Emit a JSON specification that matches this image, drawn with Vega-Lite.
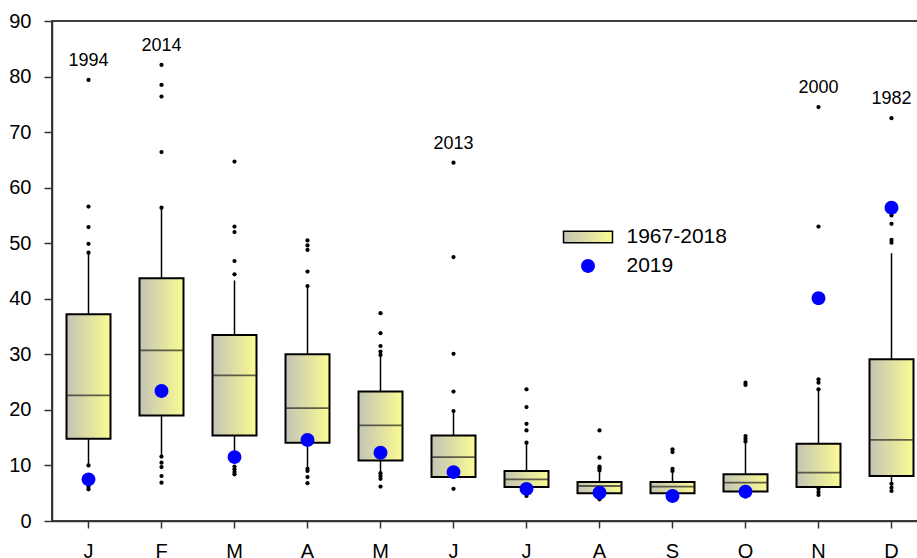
{
  "$schema": "https://vega.github.io/schema/vega-lite/v6.json",
  "autosize": {"type": "none"},
  "width": 876,
  "height": 500,
  "padding": {"left": 52, "top": 21, "right": 0, "bottom": 37},
  "background": "white",
  "title": {"text": "Monthly Streamflow (m³/s)", "fontSize": 26, "font": "Liberation Sans", "fontWeight": "normal", "color": "black", "anchor": "middle", "frame": "group", "dx": 88, "offset": 2, "baseline": "alphabetic"},
  "config": {
    "view": {"stroke": "black", "strokeWidth": 1.5},
    "axis": {"grid": false, "domainColor": "#333333", "domainWidth": 1.5, "tickColor": "#333333", "tickWidth": 1.5, "tickSize": 8, "labelColor": "black", "labelFont": "Liberation Sans", "title": null},
    "legend": {"title": null, "orient": "none", "legendX": 525.5, "legendY": 205.5, "padding": 0, "symbolSize": 100, "symbolStrokeWidth": 1.5,
      "labelFontSize": 21, "labelFont": "Liberation Sans", "labelColor": "black", "labelOffset": 28, "rowPadding": 7}
  },
  "datasets": {
    "boxes": [
      {"month": "Jan", "q1": 14.8, "median": 22.6, "q3": 37.2, "lo": 10.0, "hi": 48.3},
      {"month": "Feb", "q1": 19.0, "median": 30.7, "q3": 43.7, "lo": 11.6, "hi": 56.4},
      {"month": "Mar", "q1": 15.4, "median": 26.2, "q3": 33.5, "lo": 11.0, "hi": 43.3},
      {"month": "Apr", "q1": 14.1, "median": 20.3, "q3": 30.0, "lo": 9.4, "hi": 42.3},
      {"month": "May", "q1": 10.9, "median": 17.2, "q3": 23.3, "lo": 8.6, "hi": 29.7},
      {"month": "Jun", "q1": 7.9, "median": 11.5, "q3": 15.4, "lo": 7.9, "hi": 19.8},
      {"month": "Jul", "q1": 6.1, "median": 7.5, "q3": 9.0, "lo": 6.1, "hi": 14.1},
      {"month": "Aug", "q1": 5.0, "median": 6.3, "q3": 7.0, "lo": 5.0, "hi": 9.1},
      {"month": "Sep", "q1": 5.0, "median": 6.2, "q3": 7.0, "lo": 5.0, "hi": 9.0},
      {"month": "Oct", "q1": 5.3, "median": 6.9, "q3": 8.4, "lo": 5.3, "hi": 14.3},
      {"month": "Nov", "q1": 6.1, "median": 8.7, "q3": 13.9, "lo": 5.9, "hi": 23.7},
      {"month": "Dec", "q1": 8.1, "median": 14.6, "q3": 29.1, "lo": 6.9, "hi": 48.2}
    ],
    "outliers": [
      {"month": "Jan", "v": 10.0}, {"month": "Jan", "v": 6.2}, {"month": "Jan", "v": 5.7}, {"month": "Jan", "v": 48.3}, {"month": "Jan", "v": 49.9}, {"month": "Jan", "v": 52.9}, {"month": "Jan", "v": 56.6}, {"month": "Jan", "v": 79.4},
      {"month": "Feb", "v": 11.6}, {"month": "Feb", "v": 10.5}, {"month": "Feb", "v": 9.7}, {"month": "Feb", "v": 8.1}, {"month": "Feb", "v": 6.9}, {"month": "Feb", "v": 56.4}, {"month": "Feb", "v": 66.4}, {"month": "Feb", "v": 76.4}, {"month": "Feb", "v": 78.5}, {"month": "Feb", "v": 82.1},
      {"month": "Mar", "v": 9.8}, {"month": "Mar", "v": 9.3}, {"month": "Mar", "v": 8.8}, {"month": "Mar", "v": 8.4}, {"month": "Mar", "v": 44.4}, {"month": "Mar", "v": 46.8}, {"month": "Mar", "v": 52.0}, {"month": "Mar", "v": 53.0}, {"month": "Mar", "v": 64.7},
      {"month": "Apr", "v": 9.4}, {"month": "Apr", "v": 9.0}, {"month": "Apr", "v": 7.9}, {"month": "Apr", "v": 6.8}, {"month": "Apr", "v": 42.3}, {"month": "Apr", "v": 44.9}, {"month": "Apr", "v": 48.8}, {"month": "Apr", "v": 49.6}, {"month": "Apr", "v": 50.5},
      {"month": "May", "v": 8.6}, {"month": "May", "v": 8.1}, {"month": "May", "v": 7.6}, {"month": "May", "v": 6.2}, {"month": "May", "v": 29.9}, {"month": "May", "v": 30.5}, {"month": "May", "v": 31.5}, {"month": "May", "v": 33.8}, {"month": "May", "v": 37.4},
      {"month": "Jun", "v": 5.8}, {"month": "Jun", "v": 19.8}, {"month": "Jun", "v": 23.3}, {"month": "Jun", "v": 30.1}, {"month": "Jun", "v": 47.5}, {"month": "Jun", "v": 64.5},
      {"month": "Jul", "v": 4.5}, {"month": "Jul", "v": 14.1}, {"month": "Jul", "v": 16.3}, {"month": "Jul", "v": 17.5}, {"month": "Jul", "v": 20.5}, {"month": "Jul", "v": 23.7},
      {"month": "Aug", "v": 3.9}, {"month": "Aug", "v": 9.1}, {"month": "Aug", "v": 9.5}, {"month": "Aug", "v": 9.8}, {"month": "Aug", "v": 11.4}, {"month": "Aug", "v": 16.3},
      {"month": "Sep", "v": 9.0}, {"month": "Sep", "v": 9.4}, {"month": "Sep", "v": 12.4}, {"month": "Sep", "v": 12.9},
      {"month": "Oct", "v": 4.4}, {"month": "Oct", "v": 14.3}, {"month": "Oct", "v": 14.8}, {"month": "Oct", "v": 15.3}, {"month": "Oct", "v": 24.5}, {"month": "Oct", "v": 24.9},
      {"month": "Nov", "v": 5.8}, {"month": "Nov", "v": 5.2}, {"month": "Nov", "v": 4.7}, {"month": "Nov", "v": 23.7}, {"month": "Nov", "v": 24.9}, {"month": "Nov", "v": 25.5}, {"month": "Nov", "v": 53.0}, {"month": "Nov", "v": 74.5},
      {"month": "Dec", "v": 6.7}, {"month": "Dec", "v": 6.0}, {"month": "Dec", "v": 5.4}, {"month": "Dec", "v": 50.1}, {"month": "Dec", "v": 50.6}, {"month": "Dec", "v": 53.5}, {"month": "Dec", "v": 55.0}, {"month": "Dec", "v": 72.5}
    ],
    "y2019": [
      {"month": "Jan", "v": 7.5, "series": "2019"}, {"month": "Feb", "v": 23.4, "series": "2019"}, {"month": "Mar", "v": 11.5, "series": "2019"}, {"month": "Apr", "v": 14.6, "series": "2019"},
      {"month": "May", "v": 12.3, "series": "2019"}, {"month": "Jun", "v": 8.8, "series": "2019"}, {"month": "Jul", "v": 5.8, "series": "2019"}, {"month": "Aug", "v": 5.1, "series": "2019"},
      {"month": "Sep", "v": 4.5, "series": "2019"}, {"month": "Oct", "v": 5.3, "series": "2019"}, {"month": "Nov", "v": 40.1, "series": "2019"}, {"month": "Dec", "v": 56.4, "series": "2019"}
    ],
    "labels": [
      {"month": "Jan", "v": 79.4, "year": "1994"},
      {"month": "Feb", "v": 82.1, "year": "2014"},
      {"month": "Jun", "v": 64.5, "year": "2013"},
      {"month": "Nov", "v": 74.5, "year": "2000"},
      {"month": "Dec", "v": 72.5, "year": "1982"}
    ]
  },
  "encoding": {
    "x": {"field": "month", "type": "nominal", "scale": {"domain": ["Jan","Feb","Mar","Apr","May","Jun","Jul","Aug","Sep","Oct","Nov","Dec"], "paddingInner": 0, "paddingOuter": 0},
      "axis": {"labelExpr": "substring(datum.label, 0, 1)", "labelAngle": 0, "labelFontSize": 20, "labelPadding": 13, "tickSize": 7, "domainColor": "#333333"}}
  },
  "layer": [
    {
      "data": {"name": "boxes"},
      "mark": {"type": "rule", "color": "black", "strokeWidth": 1.5},
      "encoding": {
        "y": {"field": "lo", "type": "quantitative", "scale": {"domain": [0, 90], "nice": false, "zero": false}, "axis": {"values": [0,10,20,30,40,50,60,70,80,90], "labelFontSize": 20, "labelPadding": 13}},
        "y2": {"field": "q1"}
      }
    },
    {
      "data": {"name": "boxes"},
      "mark": {"type": "rule", "color": "black", "strokeWidth": 1.5},
      "encoding": {"y": {"field": "q3", "type": "quantitative"}, "y2": {"field": "hi"}}
    },
    {
      "data": {"name": "boxes"},
      "mark": {"type": "bar", "size": 44, "stroke": "black", "strokeWidth": 2,
        "fill": {"gradient": "linear", "x1": 0, "y1": 0, "x2": 1, "y2": 0, "stops": [{"offset": 0, "color": "#c3c3b5"}, {"offset": 1, "color": "#fbfb93"}]}},
      "encoding": {"y": {"field": "q1", "type": "quantitative"}, "y2": {"field": "q3"}}
    },
    {
      "data": {"name": "boxes"},
      "mark": {"type": "tick", "size": 44, "thickness": 1.8, "color": "#222222"},
      "encoding": {"y": {"field": "median", "type": "quantitative"}}
    },
    {
      "data": {"name": "outliers"},
      "mark": {"type": "circle", "size": 18, "color": "black", "opacity": 1},
      "encoding": {"y": {"field": "v", "type": "quantitative"}}
    },
    {
      "data": {"name": "y2019"},
      "mark": {"type": "point", "filled": true, "size": 100, "strokeWidth": 1.5, "opacity": 1},
      "encoding": {
        "y": {"field": "v", "type": "quantitative"},
        "shape": {"field": "series", "type": "nominal",
          "scale": {"domain": ["1967-2018", "2019"], "range": ["M-4.9,-1.15H4.9V1.15H-4.9Z", "M-1.38,0A1.38,1.38 0 1,0 1.38,0A1.38,1.38 0 1,0 -1.38,0Z"]}},
        "color": {"field": "series", "type": "nominal",
          "scale": {"domain": ["1967-2018", "2019"], "range": [{"expr": "{gradient: 'linear', x1: 0, y1: 0, x2: 1, y2: 0, stops: [{offset: 0, color: '#c3c3b5'}, {offset: 1, color: '#fbfb93'}]}"}, "blue"]}},
        "stroke": {"field": "series", "type": "nominal",
          "scale": {"domain": ["1967-2018", "2019"], "range": ["black", "transparent"]}}
      }
    },
    {
      "data": {"name": "labels"},
      "mark": {"type": "text", "fontSize": 18, "font": "Liberation Sans", "color": "black", "dy": -19, "baseline": "middle"},
      "encoding": {"y": {"field": "v", "type": "quantitative"}, "text": {"field": "year"}}
    }
  ]
}
